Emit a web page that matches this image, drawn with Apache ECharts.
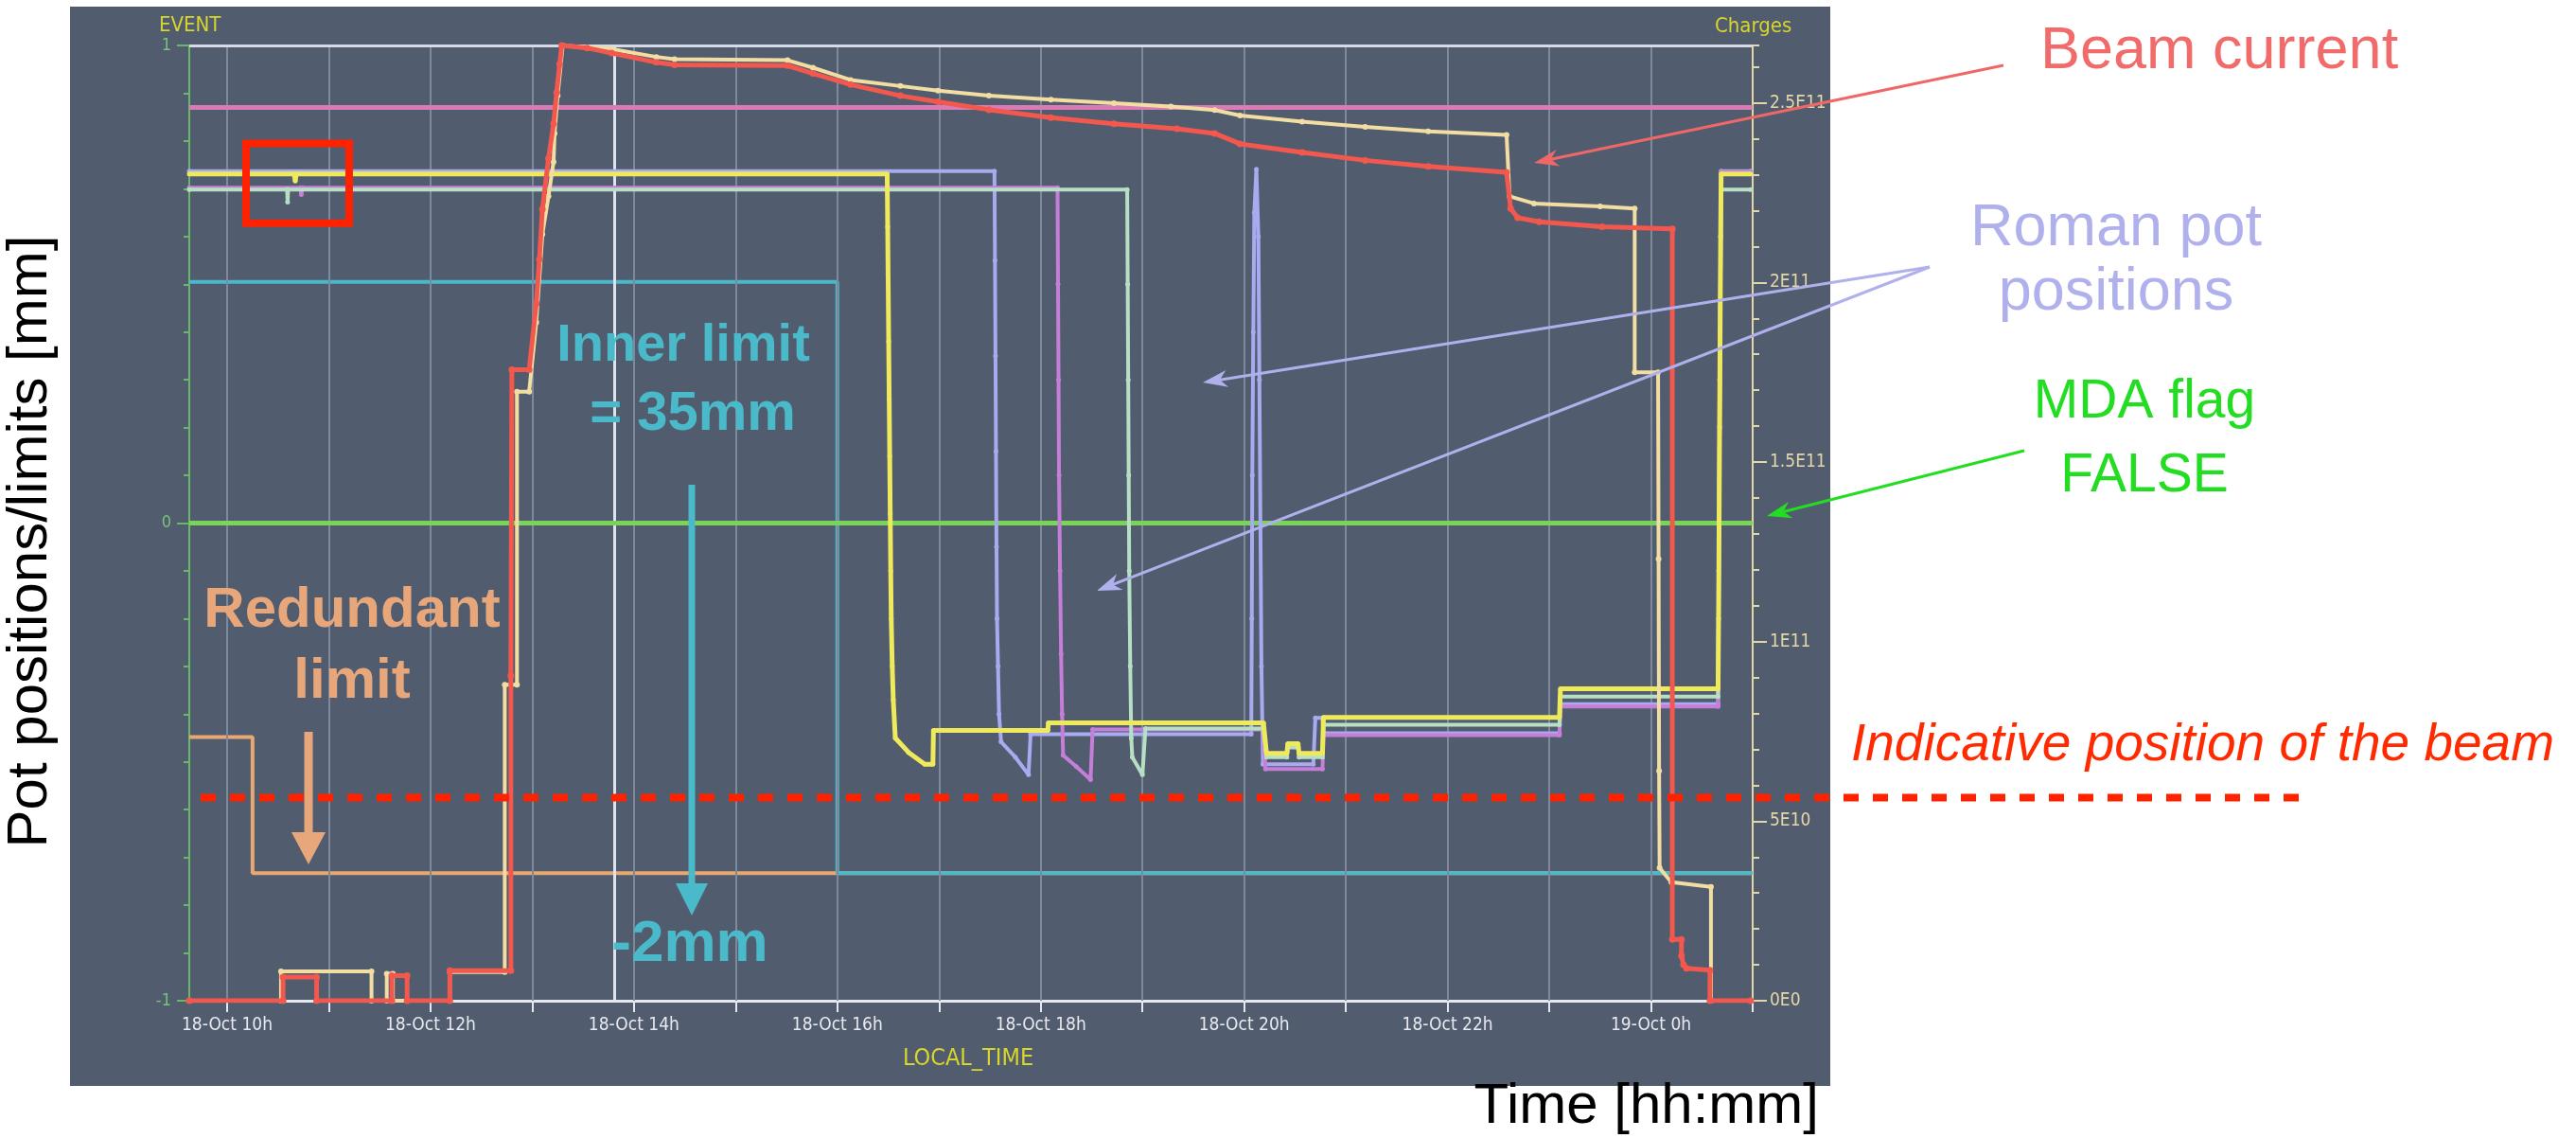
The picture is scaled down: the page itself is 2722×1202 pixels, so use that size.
<!DOCTYPE html>
<html>
<head>
<meta charset="utf-8">
<script src="https://cdn.jsdelivr.net/npm/echarts@6/dist/echarts.min.js"></script>
<style>
  html, body { margin: 0; padding: 0; background: #ffffff; }
  #chart { width: 2722px; height: 1202px; }
</style>
</head>
<body>
<div id="chart"></div>
<script>
// Time is counted in hours since 18-Oct 00:00 (24 = 19-Oct 00:00)
const timeMin = 9.628;
const timeMax = 25;
const hourTicks = [10, 11, 12, 13, 14, 15, 16, 17, 18, 19, 20, 21, 22, 23, 24, 25];
const hourLabels = [10, 12, 14, 16, 18, 20, 22, 24];
const hourGrid = [10, 11, 12, 13, 14, 15, 16, 17, 18, 19, 20, 21, 22, 23, 24];
const cursorTime = 13.81;

// Left axis (normalised pot positions / limits)
const posLabels = [-1, 0, 1];
// Right axis (beam charges)
const chargeMax = 2.66e11;
const chargeLabels = [0, 5e10, 1e11, 1.5e11, 2e11, 2.5e11];

// Limits and flags
const redundantLimit = [[9.628, -0.448], [10.25, -0.448], [10.25, -0.733], [25, -0.733]];
const innerLimit = [[9.628, 0.505], [16.0, 0.505], [16.0, -0.733], [25, -0.733]];
const dumpLevel = [[9.628, 0.87], [25, 0.87]];
const mdaFlag = [[9.628, 0], [25, 0]];
const beamLevel = -0.575;
const boxTimes = [10.186, 11.2];
const boxLevels = [0.628, 0.795];

// Roman pot positions
const lavenderPot = [
  [9.628, 0.737], [17.545, 0.737],
  [17.55, 0.55], [17.555, 0.35], [17.56, 0.15], [17.565, -0.05], [17.57, -0.2], [17.58, -0.3], [17.59, -0.4], [17.61, -0.458],
  [17.75, -0.49], [17.88, -0.527], [17.9, -0.442],
  [20.07, -0.442],
  [20.075, -0.2], [20.08, 0.1], [20.09, 0.4], [20.1, 0.65], [20.12, 0.741], [20.14, 0.6], [20.15, 0.3], [20.16, 0.0], [20.17, -0.3], [20.185, -0.505],
  [20.68, -0.505], [20.7, -0.408], [20.77, -0.408], [20.78, -0.44],
  [23.1, -0.44], [23.11, -0.379], [24.66, -0.379],
  [24.665, -0.1], [24.675, 0.3], [24.685, 0.6], [24.69, 0.737], [24.98, 0.737]
];
const violetPot = [
  [9.628, 0.702], [10.72, 0.702], [10.73, 0.688], [10.74, 0.702],
  [18.165, 0.702],
  [18.17, 0.5], [18.175, 0.3], [18.18, 0.1], [18.19, -0.1], [18.2, -0.274], [18.21, -0.4], [18.22, -0.486],
  [18.35, -0.51], [18.49, -0.537], [18.51, -0.432],
  [20.19, -0.432], [20.21, -0.515], [20.77, -0.515], [20.78, -0.444],
  [23.1, -0.444], [23.11, -0.384], [24.66, -0.384],
  [24.67, 0.0], [24.68, 0.4], [24.69, 0.735], [24.98, 0.735]
];
const mintPot = [
  [9.628, 0.698], [10.59, 0.698], [10.595, 0.672], [10.6, 0.698],
  [18.85, 0.698],
  [18.855, 0.5], [18.86, 0.3], [18.865, 0.1], [18.87, -0.1], [18.88, -0.3], [18.89, -0.45], [18.9, -0.49],
  [19.0, -0.527], [19.03, -0.43],
  [20.19, -0.43], [20.22, -0.49], [20.42, -0.49], [20.43, -0.47], [20.53, -0.47], [20.54, -0.49], [20.77, -0.49],
  [20.78, -0.422], [23.1, -0.422], [23.11, -0.363], [24.66, -0.363],
  [24.67, 0.0], [24.68, 0.4], [24.69, 0.698], [24.98, 0.698]
];
const yellowPot = [
  [9.628, 0.731], [10.66, 0.731], [10.67, 0.716], [10.68, 0.731],
  [16.49, 0.731],
  [16.495, 0.62], [16.5, 0.5], [16.505, 0.38], [16.51, 0.26], [16.515, 0.14], [16.52, 0.02], [16.525, -0.1], [16.53, -0.2], [16.54, -0.3], [16.55, -0.37], [16.57, -0.45],
  [16.7, -0.48], [16.86, -0.505], [16.94, -0.505],
  [16.945, -0.434], [18.07, -0.434], [18.075, -0.418], [20.19, -0.418],
  [20.22, -0.482], [20.42, -0.482], [20.43, -0.462], [20.53, -0.462], [20.54, -0.482], [20.77, -0.482],
  [20.78, -0.407], [23.1, -0.407], [23.11, -0.347], [24.66, -0.347],
  [24.665, -0.2], [24.67, 0.0], [24.675, 0.2], [24.68, 0.4], [24.685, 0.6], [24.69, 0.731], [24.98, 0.731]
];

// Beam charges (protons)
const beam1Charge = [
  [9.628, 0], [10.55, 0], [10.55, 0.66e10], [10.88, 0.66e10], [10.88, 0],
  [11.62, 0], [11.62, 0.7e10], [11.77, 0.7e10], [11.77, 0],
  [12.19, 0], [12.19, 0.84e10], [12.79, 0.84e10], [12.79, 9.05e10], [12.8, 17.57e10], [12.97, 17.57e10],
  [13.04, 19.41e10], [13.07, 20.64e10], [13.1, 22.04e10], [13.16, 23.45e10], [13.21, 24.42e10],
  [13.24, 25.29e10], [13.27, 26.08e10], [13.29, 26.6e10],
  [13.54, 26.53e10], [13.78, 26.39e10], [14.22, 26.13e10], [14.4, 26.06e10], [15.51, 26.04e10],
  [15.76, 25.82e10], [16.13, 25.51e10], [16.62, 25.2e10], [16.99, 25.03e10], [17.49, 24.81e10],
  [18.1, 24.59e10], [18.72, 24.42e10], [19.34, 24.28e10], [19.71, 24.15e10], [19.96, 23.86e10],
  [20.57, 23.62e10], [21.19, 23.4e10], [21.81, 23.23e10], [22.58, 23.07e10],
  [22.62, 22.06e10], [22.69, 21.8e10], [22.9, 21.69e10], [23.52, 21.55e10], [24.21, 21.49e10],
  [24.21, 1.71e10], [24.3, 1.71e10], [24.3, 1.25e10], [24.32, 1.0e10], [24.35, 0.9e10], [24.58, 0.85e10],
  [24.58, 0], [24.98, 0]
];
const beam2Charge = [
  [9.628, 0], [10.53, 0], [10.53, 0.82e10], [11.42, 0.82e10], [11.42, 0],
  [11.57, 0], [11.57, 0.75e10], [11.63, 0.75e10], [11.63, 0],
  [12.19, 0], [12.19, 0.8e10], [12.73, 0.8e10], [12.73, 8.8e10], [12.85, 8.8e10], [12.85, 16.96e10], [12.97, 16.96e10],
  [13.04, 18.89e10], [13.1, 21.34e10], [13.16, 22.4e10], [13.21, 23.36e10], [13.22, 24.15e10],
  [13.25, 25.2e10], [13.3, 26.6e10],
  [13.78, 26.5e10], [14.22, 26.28e10], [14.4, 26.22e10], [15.51, 26.19e10], [15.76, 25.98e10],
  [16.13, 25.64e10], [16.62, 25.47e10], [16.99, 25.34e10], [17.49, 25.2e10], [18.1, 25.09e10],
  [18.72, 24.99e10], [19.28, 24.9e10], [19.71, 24.8e10], [19.96, 24.65e10], [20.57, 24.48e10],
  [21.19, 24.33e10], [21.81, 24.21e10], [22.58, 24.11e10],
  [22.61, 22.4e10], [22.85, 22.2e10], [23.5, 22.12e10], [23.84, 22.06e10],
  [23.84, 17.5e10], [24.07, 17.5e10], [24.075, 12.3e10], [24.08, 6.4e10], [24.085, 3.7e10],
  [24.2, 3.3e10], [24.59, 3.17e10], [24.59, 0], [24.98, 0]
];

const NARROW = "'Liberation Sans Narrow', 'DejaVu Sans Condensed', sans-serif";
const SANS = "'Liberation Sans', Arial, Helvetica, sans-serif";

function fmtHour(h) {
  return h < 24 ? '18-Oct ' + h + 'h' : '19-Oct ' + (h - 24) + 'h';
}
function fmtCharge(v) {
  if (v === 0) return '0E0';
  const e = Math.floor(Math.log10(v) + 1e-9);
  const m = Math.round(v / Math.pow(10, e) * 100) / 100;
  return m + 'E' + e;
}

function lineSeries(name, data, color, width, opts) {
  return Object.assign({
    name: name,
    type: 'line',
    data: data,
    yAxisIndex: 0,
    showSymbol: false,
    symbol: 'circle',
    symbolSize: 5,
    lineStyle: { color: color, width: width },
    itemStyle: { color: color },
    silent: true
  }, opts || {});
}
const dotted = { showSymbol: true, showAllSymbol: true };

const axisGreen = '#69b769';
const axisBeige = '#e4d6a6';

const option = {
  animation: false,
  backgroundColor: '#ffffff',
  grid: { left: 200, right: 870, top: 48, bottom: 145, containLabel: false, outerBoundsMode: 'none' },
  xAxis: {
    type: 'value', min: timeMin, max: timeMax,
    axisLine: { onZero: false, lineStyle: { color: '#e6e8f0', width: 3 } },
    axisTick: { show: true, customValues: hourTicks, length: 12, lineStyle: { color: '#e6e8f0', width: 2 } },
    axisLabel: { customValues: hourLabels, formatter: fmtHour, color: '#e8e9ef', fontSize: 19, fontFamily: NARROW, margin: 17 },
    splitLine: { show: false }
  },
  yAxis: [
    {
      type: 'value', min: -1, max: 1, interval: 1, position: 'left',
      axisLine: { show: true, onZero: false, lineStyle: { color: axisGreen, width: 2 } },
      axisTick: { show: true, length: 13, lineStyle: { color: axisGreen, width: 2 } },
      minorTick: { show: true, splitNumber: 10, length: 6, lineStyle: { color: axisGreen, width: 2 } },
      axisLabel: { customValues: posLabels, color: '#78c378', fontSize: 18, fontFamily: NARROW, margin: 19 },
      splitLine: { show: false }, minorSplitLine: { show: false }
    },
    {
      type: 'value', min: 0, max: chargeMax, interval: 1e10, position: 'right',
      axisLine: { show: true, onZero: false, lineStyle: { color: axisBeige, width: 2 } },
      axisTick: { show: true, length: 7, lineStyle: { color: axisBeige, width: 2 } },
      axisLabel: { show: false },
      splitLine: { show: false }
    },
    {
      type: 'value', min: 0, max: chargeMax, position: 'right',
      axisLine: { show: false, onZero: false },
      axisTick: { show: true, customValues: chargeLabels, length: 15, lineStyle: { color: axisBeige, width: 2 } },
      axisLabel: { customValues: chargeLabels, formatter: fmtCharge, color: axisBeige, fontSize: 19, fontFamily: NARROW, margin: 18 },
      splitLine: { show: false }
    }
  ],
  series: [
    {
      name: 'hours', type: 'line', data: [[timeMin, -2]], showSymbol: false,
      lineStyle: { opacity: 0 }, z: 1, silent: true,
      markLine: {
        silent: true, animation: false, symbol: ['none', 'none'], label: { show: false },
        data: hourGrid.map(h => ({ xAxis: h, lineStyle: { color: '#7f899c', width: 2, type: 'solid' } }))
          .concat([
            { xAxis: cursorTime, lineStyle: { color: '#dfe3ee', width: 3, type: 'solid' } },
            { yAxis: 1, lineStyle: { color: '#d6dae6', width: 3, type: 'solid' } }
          ])
      }
    },
    lineSeries('Redundant limit', redundantLimit, '#e9a772', 4, { z: 3 }),
    lineSeries('Inner limit', innerLimit, '#4bb9c9', 4, { z: 4 }),
    lineSeries('Dump level', dumpLevel, '#d97cb6', 5, { z: 5 }),
    lineSeries('MDA flag', mdaFlag, '#7ad458', 5, { z: 6 }),
    lineSeries('Pot 1', lavenderPot, '#a9aaf0', 4, Object.assign({ z: 7 }, dotted)),
    lineSeries('Pot 2', violetPot, '#c57fd9', 4, Object.assign({ z: 8 }, dotted)),
    lineSeries('Pot 3', mintPot, '#b7dfc4', 4, Object.assign({ z: 9 }, dotted)),
    lineSeries('Pot 4', yellowPot, '#eeea5c', 5, Object.assign({ z: 10 }, dotted)),
    lineSeries('Beam 2', beam2Charge, '#f2dea2', 4, Object.assign({ z: 11, yAxisIndex: 1, symbolSize: 6 }, dotted)),
    lineSeries('Beam 1', beam1Charge, '#f2584e', 5, Object.assign({ z: 12, yAxisIndex: 1, symbolSize: 7 }, dotted))
  ]
};

const chart = echarts.init(document.getElementById('chart'), null, { renderer: 'canvas' });
chart.setOption(option);

// Annotation arrow: shaft plus head (notch < 1 gives a barbed head)
function arrow(x1, y1, x2, y2, color, width, headLen, headWidth, notch) {
  const a = Math.atan2(y2 - y1, x2 - x1);
  const c = Math.cos(a), s = Math.sin(a);
  const bx = x2 - headLen * c, by = y2 - headLen * s;
  const nx = x2 - headLen * notch * c, ny = y2 - headLen * notch * s;
  const px = -s * headWidth / 2, py = c * headWidth / 2;
  return [
    { type: 'line', z: 100, silent: true, shape: { x1: x1, y1: y1, x2: nx, y2: ny }, style: { stroke: color, lineWidth: width } },
    { type: 'polygon', z: 100, silent: true, shape: { points: [[x2, y2], [bx + px, by + py], [nx, ny], [bx - px, by - py]] }, style: { fill: color } }
  ];
}
function label(text, x, y, color, size, opts) {
  const o = opts || {};
  return {
    type: 'text', z: 100, silent: true, x: x, y: y, rotation: o.rotation || 0,
    style: {
      text: text, fill: color, fontSize: size, fontFamily: o.family || SANS,
      fontWeight: o.weight || 'normal', fontStyle: o.style || 'normal',
      align: o.align || 'left', verticalAlign: 'middle'
    }
  };
}

const beamY = chart.convertToPixel({ seriesIndex: 1 }, [timeMin, beamLevel])[1];
const boxA = chart.convertToPixel({ seriesIndex: 1 }, [boxTimes[0], boxLevels[1]]);
const boxB = chart.convertToPixel({ seriesIndex: 1 }, [boxTimes[1], boxLevels[0]]);

const lavender = '#b0b1ec';
const graphics = [
  { type: 'rect', z: -100, silent: true, shape: { x: 74, y: 7, width: 1860, height: 1140 }, style: { fill: '#515c6e' } },
  { type: 'line', z: 100, silent: true, shape: { x1: 212, y1: beamY, x2: 2439, y2: beamY }, style: { stroke: '#ff2200', lineWidth: 8, lineDash: [16, 15] } },
  { type: 'rect', z: 100, silent: true, shape: { x: boxA[0], y: boxA[1], width: boxB[0] - boxA[0], height: boxB[1] - boxA[1] }, style: { fill: 'none', stroke: '#ff2200', lineWidth: 8 } },

  label('EVENT', 168, 27, '#d8d62c', 22, { family: NARROW }),
  label('Charges', 1812, 28, '#d8d62c', 22, { family: NARROW }),
  label('LOCAL_TIME', 1023, 1118, '#d8d62c', 25, { family: NARROW, align: 'center' }),

  label('Pot positions/limits [mm]', 32, 572, '#000000', 60, { align: 'center', rotation: Math.PI / 2 }),
  label('Time [hh:mm]', 1922, 1169, '#000000', 60, { align: 'right' }),

  label('Beam current', 2156, 55, '#f26b6b', 63),
  label('Roman pot', 2236, 242, lavender, 63, { align: 'center' }),
  label('positions', 2236, 310, lavender, 63, { align: 'center' }),
  label('MDA flag', 2266, 425, '#22dd22', 57, { align: 'center' }),
  label('FALSE', 2266, 503, '#22dd22', 57, { align: 'center' }),
  label('Indicative position of the beam', 1956, 788, '#ff2a00', 55, { style: 'italic' }),

  label('Redundant', 372, 645, '#e8a77a', 60, { align: 'center', weight: 'bold' }),
  label('limit', 372, 720, '#e8a77a', 60, { align: 'center', weight: 'bold' }),
  label('Inner limit', 722, 366, '#4ab9c9', 56, { align: 'center', weight: 'bold' }),
  label('= 35mm', 732, 438, '#4ab9c9', 58, { align: 'center', weight: 'bold' }),
  label('-2mm', 729, 998, '#4ab9c9', 62, { align: 'center', weight: 'bold' })
]
  .concat(arrow(2117, 69, 1621, 172, '#f06767', 3, 26, 18, 0.7))
  .concat(arrow(2039, 282, 1271, 404, lavender, 3, 26, 18, 0.7))
  .concat(arrow(2039, 282, 1159, 624, lavender, 3, 26, 18, 0.7))
  .concat(arrow(2139, 476, 1867, 545, '#22dd22', 3, 26, 18, 0.7))
  .concat(arrow(326, 773, 326, 913, '#e8a77a', 9, 34, 36, 1))
  .concat(arrow(731, 512, 731, 967, '#4ab9c9', 7, 34, 34, 1));

chart.setOption({ graphic: graphics });
</script>
</body>
</html>
